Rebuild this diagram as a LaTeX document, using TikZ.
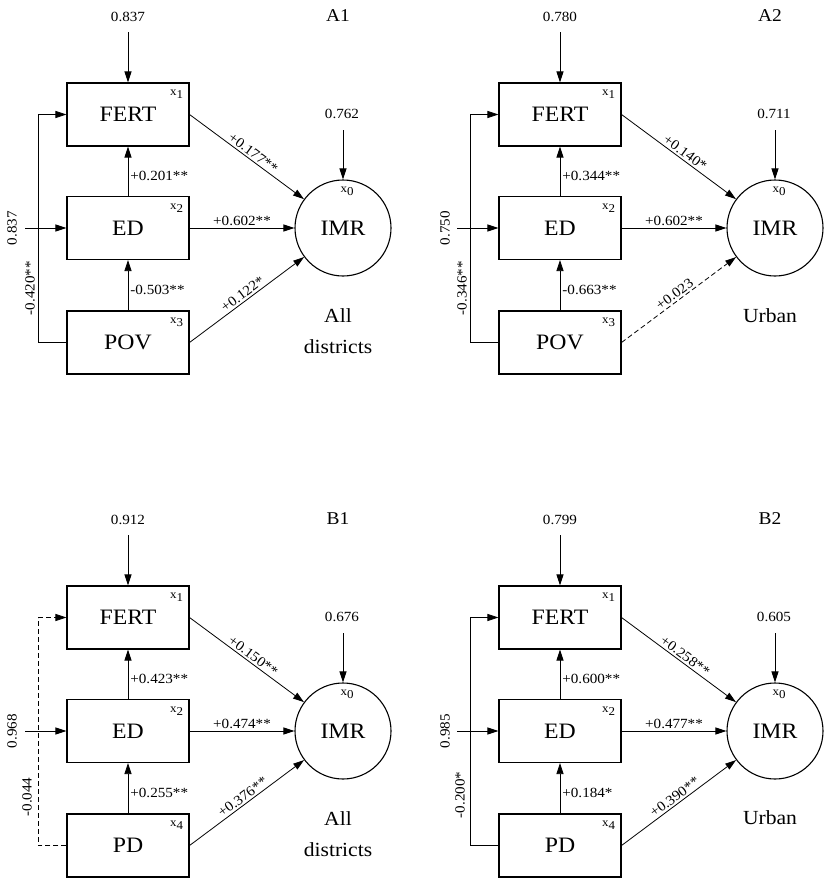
\documentclass[tikz,border=0pt]{standalone}
\usepackage{fontspec}
\setmainfont{Liberation Serif}[FakeStretch=1.08]
\usetikzlibrary{arrows.meta}
\tikzset{
  box/.style={draw, line width=1.1pt, minimum width=122pt, minimum height=63pt, inner sep=0pt, font=\fontsize{22}{24}\selectfont},
  circ/.style={draw, circle, line width=1.1pt, minimum size=96pt, inner sep=0pt, font=\fontsize{22}{24}\selectfont},
  arr/.style={-{Triangle[length=11pt,width=7pt]}, line width=0.8pt},
  dsh/.style={dash pattern=on 5pt off 3pt},
  val/.style={font=\fontsize{14}{16}\selectfont, inner sep=1pt},
  elab/.style={font=\fontsize{14}{16}\selectfont, inner sep=2pt},
  subx/.style={font=\fontsize{12}{14}\selectfont, inner sep=0pt},
  ttl/.style={font=\fontsize{18}{20}\selectfont},
  grp/.style={font=\fontsize{20}{31}\selectfont, align=center}
}
\newcommand\xs[1]{x\raisebox{-3pt}{#1}}
\begin{document}
\begin{tikzpicture}[x=1pt,y=-1pt]
\useasboundingbox (0,0) rectangle (824,878);

% ---------- A1 ----------
\begin{scope}[name prefix=a1-]
\node[box] (fert) at (128,114.5) {FERT};
\node[box] (ed) at (128,228) {ED};
\node[box] (pov) at (128,342.5) {POV};
\node[circ] (imr) at (343,228) {IMR};
\node[ttl] (title) at (338,16) {A1};
\node[val] (vtop) at (128,17) {0.837};
\coordinate (ftop) at (128,32);
\node[val] (vimr) at (342,114) {0.762};
\coordinate (itop) at (343,130);
\coordinate (edin) at (25,228);
\node[val, rotate=90] (ved) at (12,228) {0.837};
\node[val, rotate=90] (vloop) at (30,288) {-0.420**};
\node[subx] (s1) at ([shift={(-13,12)}]fert.north east) {\xs{1}};
\node[subx] (s2) at ([shift={(-13,12)}]ed.north east) {\xs{2}};
\node[subx] (s3) at ([shift={(-13,12)}]pov.north east) {\xs{3}};
\node[subx] (s0) at ([shift={(4,12)}]imr.north) {\xs{0}};
\node[grp] (grp) at (338,331) {All\\districts};
\draw[arr] (ftop) -- (fert);
\draw[arr] (itop) -- (imr);
\draw[arr] (edin) -- (ed);
\draw[arr] (pov.west) -- ++(-28,0) |- (fert.west);
\draw[arr] (ed) -- node[elab,right,pos=0.4]{+0.201**} (fert);
\draw[arr] (pov) -- node[elab,right,pos=0.41]{-0.503**} (ed);
\draw[arr] (ed) -- node[elab,above]{+0.602**} (imr);
\draw[arr] (fert.east) -- node[elab,above,sloped,pos=0.52]{+0.177**} (imr);
\draw[arr] (pov.east) -- node[elab,above,sloped,pos=0.5]{+0.122*} (imr);
\end{scope}

% ---------- A2 ----------
\begin{scope}[shift={(432,0)}, name prefix=a2-]
\node[box] (fert) at (128,114.5) {FERT};
\node[box] (ed) at (128,228) {ED};
\node[box] (pov) at (128,342.5) {POV};
\node[circ] (imr) at (343,228) {IMR};
\node[ttl] (title) at (338,16) {A2};
\node[val] (vtop) at (128,17) {0.780};
\coordinate (ftop) at (128,32);
\node[val] (vimr) at (342,114) {0.711};
\coordinate (itop) at (343,130);
\coordinate (edin) at (25,228);
\node[val, rotate=90] (ved) at (13,228) {0.750};
\node[val, rotate=90] (vloop) at (30,288) {-0.346**};
\node[subx] (s1) at ([shift={(-13,12)}]fert.north east) {\xs{1}};
\node[subx] (s2) at ([shift={(-13,12)}]ed.north east) {\xs{2}};
\node[subx] (s3) at ([shift={(-13,12)}]pov.north east) {\xs{3}};
\node[subx] (s0) at ([shift={(4,12)}]imr.north) {\xs{0}};
\node[grp] (grp) at (338,316) {Urban};
\draw[arr] (ftop) -- (fert);
\draw[arr] (itop) -- (imr);
\draw[arr] (edin) -- (ed);
\draw[arr] (pov.west) -- ++(-28,0) |- (fert.west);
\draw[arr] (ed) -- node[elab,right,pos=0.4]{+0.344**} (fert);
\draw[arr] (pov) -- node[elab,right,pos=0.41]{-0.663**} (ed);
\draw[arr] (ed) -- node[elab,above]{+0.602**} (imr);
\draw[arr] (fert.east) -- node[elab,above,sloped,pos=0.52]{+0.140*} (imr);
\draw[arr,dsh] (pov.east) -- node[elab,above,sloped,pos=0.5]{+0.023} (imr);
\end{scope}

% ---------- B1 ----------
\begin{scope}[shift={(0,503)}, name prefix=b1-]
\node[box] (fert) at (128,114.5) {FERT};
\node[box] (ed) at (128,228) {ED};
\node[box] (pd) at (128,342.5) {PD};
\node[circ] (imr) at (343,228) {IMR};
\node[ttl] (title) at (338,16) {B1};
\node[val] (vtop) at (128,17) {0.912};
\coordinate (ftop) at (128,32);
\node[val] (vimr) at (342,114) {0.676};
\coordinate (itop) at (343,130);
\coordinate (edin) at (25,228);
\node[val, rotate=90] (ved) at (12,228) {0.968};
\node[val, rotate=90] (vloop) at (27,294) {-0.044};
\node[subx] (s1) at ([shift={(-13,12)}]fert.north east) {\xs{1}};
\node[subx] (s2) at ([shift={(-13,12)}]ed.north east) {\xs{2}};
\node[subx] (s4) at ([shift={(-13,12)}]pd.north east) {\xs{4}};
\node[subx] (s0) at ([shift={(4,12)}]imr.north) {\xs{0}};
\node[grp] (grp) at (338,331) {All\\districts};
\draw[arr] (ftop) -- (fert);
\draw[arr] (itop) -- (imr);
\draw[arr] (edin) -- (ed);
\draw[arr,dsh] (pd.west) -- ++(-28,0) |- (fert.west);
\draw[arr] (ed) -- node[elab,right,pos=0.4]{+0.423**} (fert);
\draw[arr] (pd) -- node[elab,right,pos=0.41]{+0.255**} (ed);
\draw[arr] (ed) -- node[elab,above]{+0.474**} (imr);
\draw[arr] (fert.east) -- node[elab,above,sloped,pos=0.52]{+0.150**} (imr);
\draw[arr] (pd.east) -- node[elab,above,sloped,pos=0.5]{+0.376**} (imr);
\end{scope}

% ---------- B2 ----------
\begin{scope}[shift={(432,503)}, name prefix=b2-]
\node[box] (fert) at (128,114.5) {FERT};
\node[box] (ed) at (128,228) {ED};
\node[box] (pd) at (128,342.5) {PD};
\node[circ] (imr) at (343,228) {IMR};
\node[ttl] (title) at (338,16) {B2};
\node[val] (vtop) at (128,17) {0.799};
\coordinate (ftop) at (128,32);
\node[val] (vimr) at (342,114) {0.605};
\coordinate (itop) at (343,130);
\coordinate (edin) at (25,228);
\node[val, rotate=90] (ved) at (13,228) {0.985};
\node[val, rotate=90] (vloop) at (28,292) {-0.200*};
\node[subx] (s1) at ([shift={(-13,12)}]fert.north east) {\xs{1}};
\node[subx] (s2) at ([shift={(-13,12)}]ed.north east) {\xs{2}};
\node[subx] (s4) at ([shift={(-13,12)}]pd.north east) {\xs{4}};
\node[subx] (s0) at ([shift={(4,12)}]imr.north) {\xs{0}};
\node[grp] (grp) at (338,315) {Urban};
\draw[arr] (ftop) -- (fert);
\draw[arr] (itop) -- (imr);
\draw[arr] (edin) -- (ed);
\draw[arr] (pd.west) -- ++(-28,0) |- (fert.west);
\draw[arr] (ed) -- node[elab,right,pos=0.4]{+0.600**} (fert);
\draw[arr] (pd) -- node[elab,right,pos=0.41]{+0.184*} (ed);
\draw[arr] (ed) -- node[elab,above]{+0.477**} (imr);
\draw[arr] (fert.east) -- node[elab,above,sloped,pos=0.52]{+0.258**} (imr);
\draw[arr] (pd.east) -- node[elab,above,sloped,pos=0.5]{+0.390**} (imr);
\end{scope}
\end{tikzpicture}
\end{document}
